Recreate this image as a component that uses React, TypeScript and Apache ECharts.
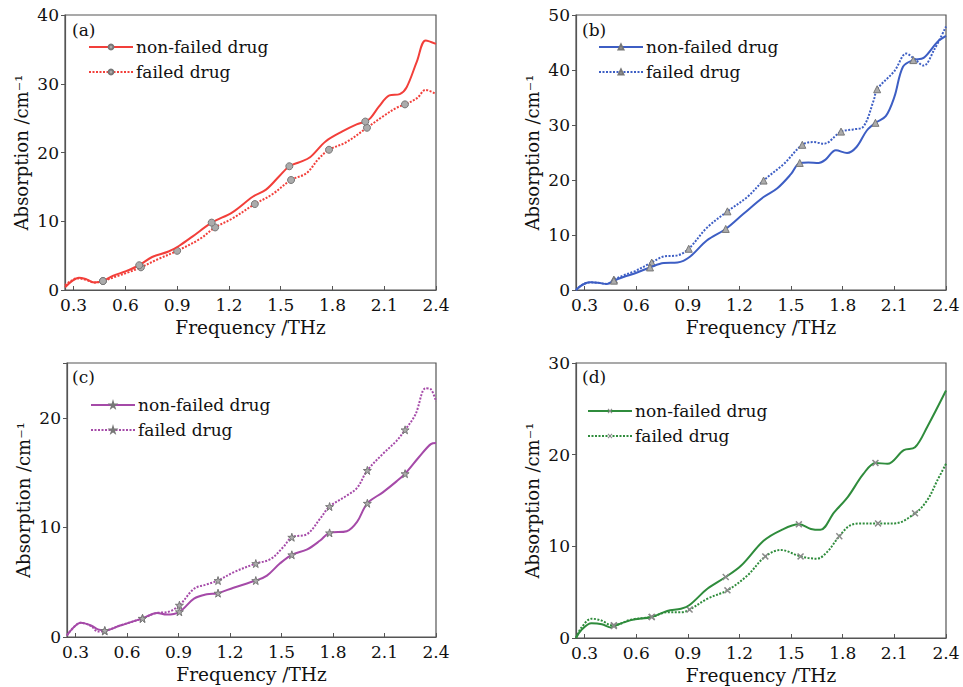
import React, { useEffect, useRef } from "react";
import * as echarts from "echarts";

// ---------- data (frequency THz, absorption cm^-1) ----------
const xTicks = [0.3, 0.6, 0.9, 1.2, 1.5, 1.8, 2.1, 2.4];
const panelLabels = ["(a)", "(b)", "(c)", "(d)"];
const seriesNames = ["non-failed drug", "failed drug"];
const yMax = [40, 50, 25, 30];

const aSolid = [[0.25,0.4],[0.29,1.3],[0.33,1.8],[0.37,1.6],[0.42,1.1],[0.47,1.3],[0.53,2.1],[0.6,2.7],[0.68,3.6],[0.755,4.8],[0.85,5.6],[0.91,6.4],[0.99,7.8],[1.1,9.8],[1.22,11.3],[1.34,13.6],[1.415,14.6],[1.49,16.5],[1.55,18.0],[1.61,18.6],[1.67,19.3],[1.76,21.6],[1.86,23.1],[1.94,24.1],[1.99,24.5],[2.02,25.0],[2.07,26.7],[2.13,28.3],[2.19,28.5],[2.23,29.5],[2.29,33.3],[2.34,36.3],[2.4,35.8]];
const aSolidMarks = [0.47, 0.68, 1.1, 1.55, 1.99];
const aDotted = [[0.25,0.7],[0.29,1.4],[0.32,1.7],[0.37,1.5],[0.42,1.1],[0.47,1.3],[0.55,2.0],[0.62,2.6],[0.69,3.3],[0.79,4.5],[0.9,5.7],[1.03,7.4],[1.12,9.1],[1.22,10.4],[1.35,12.5],[1.45,13.9],[1.56,16.0],[1.65,17.0],[1.72,19.1],[1.78,20.4],[1.88,21.5],[2.0,23.6],[2.09,25.2],[2.17,26.5],[2.22,27.0],[2.29,27.9],[2.34,29.1],[2.4,28.5]];
const aDottedMarks = [0.47, 0.69, 0.9, 1.12, 1.35, 1.56, 1.78, 2.0, 2.22];

const bSolid = [[0.25,0],[0.29,1.0],[0.335,1.4],[0.38,1.3],[0.43,1.1],[0.47,1.7],[0.53,2.4],[0.59,3.0],[0.68,4.1],[0.76,4.9],[0.84,5.0],[0.91,6.0],[1.01,9.0],[1.12,11.1],[1.225,13.9],[1.34,16.9],[1.42,18.5],[1.5,21.1],[1.55,23.1],[1.6,23.2],[1.66,23.1],[1.7,23.7],[1.76,25.4],[1.825,24.9],[1.88,26.0],[1.94,29.0],[1.99,30.4],[2.05,31.6],[2.1,35.1],[2.15,40.6],[2.21,41.8],[2.27,42.2],[2.35,45.1],[2.4,46.2]];
const bSolidMarks = [0.47, 0.68, 1.12, 1.55, 1.99, 2.21];
const bDotted = [[0.25,0],[0.29,1.0],[0.335,1.4],[0.38,1.3],[0.43,1.1],[0.47,1.9],[0.53,2.7],[0.59,3.4],[0.69,5.0],[0.76,6.1],[0.84,6.3],[0.905,7.5],[1.01,11.3],[1.13,14.3],[1.245,16.9],[1.34,19.9],[1.46,23.0],[1.565,26.4],[1.63,26.9],[1.69,26.6],[1.79,28.8],[1.86,29.2],[1.92,29.7],[1.98,34.5],[2.0,36.5],[2.1,39.8],[2.17,43.0],[2.21,42.2],[2.27,40.8],[2.33,43.6],[2.4,47.9]];
const bDottedMarks = [0.47, 0.69, 0.905, 1.13, 1.34, 1.565, 1.79, 2.0];

const cSolid = [[0.25,0.15],[0.29,0.9],[0.33,1.3],[0.39,1.05],[0.43,0.7],[0.47,0.6],[0.56,1.05],[0.69,1.7],[0.775,2.2],[0.83,2.05],[0.905,2.3],[0.99,3.5],[1.065,3.9],[1.13,4.0],[1.22,4.5],[1.35,5.15],[1.415,5.6],[1.49,6.7],[1.56,7.5],[1.65,8.0],[1.725,8.8],[1.78,9.5],[1.88,9.65],[1.94,10.5],[2.0,12.2],[2.09,13.2],[2.17,14.2],[2.22,14.9],[2.3,16.4],[2.37,17.6],[2.4,17.7]];
const cSolidMarks = [0.47, 0.69, 0.905, 1.13, 1.35, 1.56, 1.78, 2.0, 2.22];
const cDotted = [[0.25,0.15],[0.29,0.9],[0.33,1.3],[0.39,1.0],[0.43,0.5],[0.47,0.55],[0.56,1.05],[0.69,1.7],[0.775,2.2],[0.83,2.25],[0.905,2.9],[0.99,4.4],[1.065,4.8],[1.13,5.15],[1.22,5.9],[1.35,6.7],[1.435,7.1],[1.51,8.2],[1.56,9.1],[1.65,9.4],[1.725,10.8],[1.78,11.9],[1.88,12.9],[1.94,13.6],[2.0,15.2],[2.09,16.7],[2.17,17.9],[2.22,18.9],[2.28,20.3],[2.34,22.7],[2.37,22.6],[2.4,21.5]];
const cDottedMarks = [0.47, 0.69, 0.905, 1.13, 1.35, 1.56, 1.78, 2.0, 2.22];

const dSolid = [[0.25,0],[0.28,0.85],[0.34,1.6],[0.4,1.5],[0.455,1.15],[0.47,1.3],[0.57,1.95],[0.69,2.3],[0.78,2.95],[0.86,3.2],[0.91,3.6],[1.015,5.4],[1.12,6.65],[1.21,7.9],[1.34,10.6],[1.44,11.75],[1.545,12.4],[1.615,11.9],[1.67,11.8],[1.75,13.7],[1.83,15.4],[1.92,17.9],[1.99,19.1],[2.06,19.0],[2.155,20.5],[2.22,20.8],[2.29,23.0],[2.4,27.0]];
const dSolidMarks = [0.47, 0.69, 1.12, 1.545, 1.99];
const dDotted = [[0.25,0],[0.28,1.1],[0.34,2.1],[0.4,1.9],[0.455,1.4],[0.47,1.4],[0.57,2.0],[0.69,2.3],[0.78,2.8],[0.86,2.8],[0.91,3.1],[1.015,4.3],[1.13,5.2],[1.245,6.8],[1.35,8.9],[1.44,9.6],[1.555,8.9],[1.65,8.65],[1.71,9.4],[1.78,11.1],[1.845,12.3],[1.92,12.5],[2.005,12.5],[2.1,12.5],[2.22,13.6],[2.29,15.0],[2.35,17.2],[2.4,19.0]];
const dDottedMarks = [0.47, 0.69, 0.91, 1.13, 1.35, 1.555, 1.78, 2.005, 2.22];

// ---------- styling ----------
const FONT = "DejaVu Serif";
const TEXT = "#111";
const colors = ["#f23f3a", "#3d5ec4", "#a54aa8", "#2f8c3c"];
const STAR = "path://M50,0 L61,35 L98,35 L68,57 L79,91 L50,70 L21,91 L32,57 L2,35 L39,35 Z";
const CROSS = "path://M0,1.5 L1.5,0 L5,3.5 L8.5,0 L10,1.5 L6.5,5 L10,8.5 L8.5,10 L5,6.5 L1.5,10 L0,8.5 L3.5,5 Z";
const symbols = ["circle", "triangle", STAR, CROSS];
const symbolSizes = [7, 7, 8, 7];

const grids = [
  { left: 65, top: 15, width: 371, height: 275 },
  { left: 576, top: 15, width: 370, height: 275 },
  { left: 67, top: 363, width: 369, height: 274 },
  { left: 576, top: 363, width: 370, height: 275 },
];
const legendPos = [
  { left: 88, top: 38 },
  { left: 598, top: 38 },
  { left: 90, top: 396 },
  { left: 587, top: 402 },
];
const labelPos = [
  { left: 72, top: 21 },
  { left: 582, top: 21 },
  { left: 72, top: 368 },
  { left: 582, top: 368 },
];

const panels = [
  [aSolid, aSolidMarks, aDotted, aDottedMarks],
  [bSolid, bSolidMarks, bDotted, bDottedMarks],
  [cSolid, cSolidMarks, cDotted, cDottedMarks],
  [dSolid, dSolidMarks, dDotted, dDottedMarks],
];

function buildData(points: number[][], marks: number[]) {
  return points.map((p) =>
    marks.some((m) => Math.abs(m - p[0]) < 1e-6)
      ? { value: p }
      : { value: p, symbol: "none" }
  );
}

export default function App() {
  const ref = useRef<HTMLDivElement>(null);
  useEffect(() => {
    if (!ref.current) return;
    const chart = echarts.init(ref.current, null, { renderer: "svg" });
    const keys = ["a", "b", "c", "d"];
    const series: any[] = [];
    panels.forEach((p, i) => {
      [0, 1].forEach((k) => {
        series.push({
          type: "line",
          name: keys[i] + ":" + seriesNames[k],
          xAxisIndex: i,
          yAxisIndex: i,
          data: buildData(p[k * 2] as number[][], p[k * 2 + 1] as number[]),
          smooth: 0.35,
          symbol: symbols[i],
          symbolSize: symbolSizes[i],
          showSymbol: true,
          showAllSymbol: true,
          lineStyle: {
            color: colors[i],
            width: 2,
            type: k === 0 ? "solid" : [2, 1.5],
          },
          itemStyle: i === 3
            ? { color: "#8a8a8a", borderColor: "#8a8a8a", borderWidth: 0 }
            : { color: "#ababab", borderColor: "#777", borderWidth: 1 },
          emphasis: { disabled: true },
          z: k === 0 ? 3 : 2,
        });
      });
    });

    const option: any = {
      animation: false,
      backgroundColor: "#ffffff",
      title: panelLabels.map((t, i) => ({
        text: t,
        left: labelPos[i].left,
        top: labelPos[i].top,
        padding: 0,
        textStyle: { fontFamily: FONT, fontSize: 17, fontWeight: "normal", color: TEXT },
      })),
      legend: keys.map((key, i) => ({
        orient: "vertical",
        left: legendPos[i].left,
        top: legendPos[i].top,
        padding: 0,
        itemWidth: 44,
        itemHeight: 6,
        itemGap: 7,
        selectedMode: false,
        data: seriesNames.map((n) => key + ":" + n),
        formatter: (name: string) => name.slice(2),
        textStyle: { fontFamily: FONT, fontSize: 17, color: TEXT, lineHeight: 18, padding: [0, 0, 0, -2] },
      })),
      grid: grids.map((g) => ({
        ...g,
        show: true,
        borderColor: "#555",
        borderWidth: 1.2,
        backgroundColor: "transparent",
        containLabel: false,
      })),
      xAxis: grids.map((_, i) => ({
        type: "value",
        gridIndex: i,
        min: 0.25,
        max: 2.4,
        name: "Frequency /THz",
        nameLocation: "middle",
        nameGap: 28,
        nameTextStyle: { fontFamily: FONT, fontSize: 18.5, color: TEXT },
        axisLine: { show: true, lineStyle: { color: "#555", width: 1.2 } },
        axisTick: { show: true, inside: true, length: 4, customValues: xTicks, lineStyle: { color: "#555" } },
        axisLabel: {
          customValues: xTicks,
          formatter: (v: number) => v.toFixed(1),
          fontFamily: FONT,
          fontSize: 17,
          color: TEXT,
          margin: 6,
        },
        splitLine: { show: false },
      })),
      yAxis: grids.map((_, i) => ({
        type: "value",
        gridIndex: i,
        min: 0,
        max: yMax[i],
        interval: 10,
        name: "Absorption /cm⁻¹",
        nameLocation: "middle",
        nameGap: 35,
        nameTextStyle: { fontFamily: FONT, fontSize: 18, color: TEXT },
        axisLine: { show: true, lineStyle: { color: "#555", width: 1.2 } },
        axisTick: { show: true, inside: false, length: 4, lineStyle: { color: "#555" } },
        axisLabel: {
          formatter: (v: number) => (v % 10 === 0 ? String(v) : ""),
          fontFamily: FONT,
          fontSize: 17,
          color: TEXT,
          margin: 6,
        },
        splitLine: { show: false },
      })),
      series,
    };
    chart.setOption(option);
    return () => chart.dispose();
  }, []);
  return (
    <div
      ref={ref}
      style={{ position: "fixed", left: 0, top: 0, width: 963, height: 687, background: "#fff" }}
    />
  );
}
